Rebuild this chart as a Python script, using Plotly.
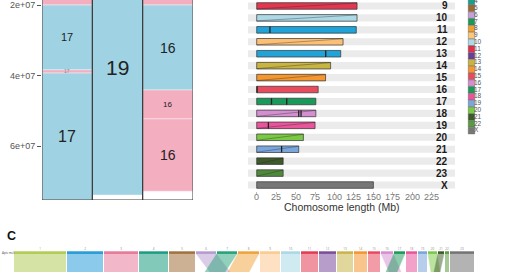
import plotly.graph_objects as go

# ---------------- Panel A: karyotype columns ----------------
seg_col   = [0, 0, 0, 0, 1, 2, 2, 2, 2]
seg_start = [1.0e7, 2.0e7, 3.84e7, 3.93e7, 0.13e7, 1.0e7, 2.0e7, 4.41e7, 5.23e7]
seg_end   = [2.0e7, 3.84e7, 3.93e7, 7.53e7, 7.39e7, 2.0e7, 4.41e7, 5.23e7, 7.28e7]
seg_kind  = ["p", "b", "p", "b", "b", "p", "b", "p", "p"]
seg_label = ["", "17", "17", "17", "19", "", "16", "16", "16"]
col_end   = 7.53e7
ytick_vals = [2e7, 4e7, 6e7]
ytick_text = ["2e+07", "4e+07", "6e+07"]

# ---------------- Panel B: chromosome lengths ----------------
chrom_rows = ["9", "10", "11", "12", "13", "14", "15", "16", "17", "18", "19", "20", "21", "22", "23", "X"]
chrom_len = [129, 129, 128, 111, 108, 95, 88.5, 79, 76, 76, 75, 60, 54, 34, 34, 150]
chrom_color = ["#e2374f", "#add8e6", "#1fa3d8", "#fdbf74", "#1fa3d8", "#c8b440", "#f5962f", "#e84b5e",
               "#1a9a5a", "#d48fd0", "#e8559a", "#7ac943", "#7aa6dc", "#3d5a2a", "#4f8a3a", "#777777"]
chrom_diag = [1, 1, 0, 1, 0, 1, 1, 0, 0, 1, 1, 1, 1, 1, 1, 0]
cen_row = [2, 4, 8, 8, 9, 9, 10, 12, 7]
cen_pos = [17, 88.7, 19, 38.6, 54, 57, 15, 32, 0.5]
xticks_b = [0, 25, 50, 75, 100, 125, 150, 175, 200, 225]

legend_labels = ["4", "5", "6", "7", "8", "9", "10", "11", "12", "13", "14", "15", "16", "17",
                 "18", "19", "20", "21", "22", "X"]
legend_colors = ["#1a9f8f", "#9c6a30", "#c8a0d8", "#1a9a5a", "#f0a030", "#fdc67a", "#add8e6", "#e0304a",
                 "#6a3d9a", "#c8b440", "#f5962f", "#e84b5e", "#d48fd0", "#1a9a5a", "#e8559a", "#7aa6dc",
                 "#7ac943", "#3d5a2a", "#5a9a40", "#777777"]

# ---------------- Panel C: synteny track ----------------
syn_len = [52, 36, 34, 29, 26, 20, 20, 21, 20, 19, 17, 17, 16, 13, 12, 12, 11, 11, 9, 9, 6, 4, 24]
syn_color = ["#b3cd5a", "#2c9fd9", "#e77c9b", "#1e9c82", "#a2713e", "#b69bd0", "#26a277", "#f0a33a",
             "#fcc98f", "#a9d9e7", "#e23c52", "#7b4c9c", "#c9b548", "#f5962f", "#e84b5e", "#d58fd2",
             "#1b9a5b", "#e8559a", "#7aa6dc", "#7ac943", "#3d5a2a", "#5a9a40", "#747474"]
syn_shift = [0, 0, 0, 0, 0, 14, -12, -10, 0, 0, 0, 0, 0, 0, 0, 8, -8, 0, 0, 3, -4, 0, 0]
syn_label = [str(i + 1) for i in range(len(syn_len))]
syn_origin = 14

W, H = 520, 272
FONT = "Liberation Sans"
fig = go.Figure()

# ---- Panel A traces
BLUE, PINK = "#9fd3e3", "#f3aec0"
for i in range(len(seg_col)):
    fig.add_trace(go.Bar(x=[seg_col[i]], y=[seg_end[i] - seg_start[i]], base=[seg_start[i]],
                         width=1, marker=dict(color=BLUE if seg_kind[i] == "b" else PINK,
                                              line=dict(color="rgba(255,255,255,0.7)", width=0.6)),
                         xaxis="x", yaxis="y", showlegend=False, hoverinfo="skip"))
for c in range(3):
    top = min(s for s, k in zip(seg_start, seg_col) if k == c)
    fig.add_trace(go.Bar(x=[c], y=[col_end - top], base=[top], width=1,
                         marker=dict(color="rgba(0,0,0,0)", line=dict(color="#3a3a3a", width=1)),
                         xaxis="x", yaxis="y", showlegend=False, hoverinfo="skip"))
lab_sizes = [11, 11, 5, 16, 21, 11, 14, 8, 14]
for i in range(len(seg_col)):
    if seg_label[i]:
        fig.add_annotation(x=seg_col[i], y=(seg_start[i] + seg_end[i]) / 2, xref="x", yref="y",
                           text=seg_label[i], showarrow=False, xanchor="center", yanchor="middle",
                           font=dict(size=lab_sizes[i], color="#222" if lab_sizes[i] > 6 else "#888",
                                     family=FONT))

# ---- Panel B traces
rng_lo, rng_hi = -11.2, 254.9
nrow = len(chrom_rows)
fig.add_trace(go.Bar(y=list(range(nrow)), x=[rng_hi - rng_lo] * nrow, base=[rng_lo] * nrow,
                     orientation="h", width=0.6, marker=dict(color="#ebebeb", line=dict(width=0)),
                     xaxis="x2", yaxis="y2", showlegend=False, hoverinfo="skip"))
fig.add_trace(go.Bar(y=list(range(nrow)), x=chrom_len, base=[0] * nrow, orientation="h", width=0.55,
                     marker=dict(color=chrom_color, line=dict(color="#333", width=0.7)),
                     xaxis="x2", yaxis="y2", showlegend=False, hoverinfo="skip"))
dx, dy = [], []
for i in range(nrow):
    if chrom_diag[i]:
        dx += [0, chrom_len[i], None]
        dy += [i + 0.25, i - 0.25, None]
fig.add_trace(go.Scatter(x=dx, y=dy, mode="lines", line=dict(color="rgba(40,40,40,0.6)", width=0.6),
                         xaxis="x2", yaxis="y2", showlegend=False, hoverinfo="skip"))
cx, cy = [], []
for r, p in zip(cen_row, cen_pos):
    cx += [p, p, None]
    cy += [r - 0.27, r + 0.27, None]
fig.add_trace(go.Scatter(x=cx, y=cy, mode="lines", line=dict(color="#222", width=1.3),
                         xaxis="x2", yaxis="y2", showlegend=False, hoverinfo="skip"))
for i, lab in enumerate(chrom_rows):
    fig.add_annotation(x=450 / W, y=i, xref="paper", yref="y2", text="<b>%s</b>" % lab, showarrow=False,
                       xanchor="right", yanchor="middle", font=dict(size=10, color="#1a1a1a", family=FONT))
for t in xticks_b:
    fig.add_annotation(x=t, y=1 - 197 / H, xref="x2", yref="paper", text=str(t), showarrow=False,
                       xanchor="center", yanchor="middle", font=dict(size=9, color="#777", family=FONT))
fig.add_annotation(x=342 / W, y=1 - 206.5 / H, xref="paper", yref="paper", text="Chomosome length (Mb)",
                   showarrow=False, xanchor="center", yanchor="middle",
                   font=dict(size=10.5, color="#333", family=FONT))

# ---- Legend
ly = [1.5 + i * 6.8 for i in range(len(legend_labels))]
fig.add_trace(go.Scatter(x=[471.5] * len(ly), y=ly, mode="markers",
                         marker=dict(symbol="square", size=6.5, color=legend_colors,
                                     line=dict(color="#555", width=0.4)),
                         xaxis="x4", yaxis="y4", showlegend=False, hoverinfo="skip"))
fig.add_trace(go.Scatter(x=[474] * len(ly), y=ly, mode="text", text=legend_labels,
                         textposition="middle right",
                         textfont=dict(size=6.5, color="#555", family=FONT),
                         xaxis="x4", yaxis="y4", showlegend=False, hoverinfo="skip"))

# ---- Panel C
starts = []
pos = syn_origin
for L in syn_len:
    starts.append(pos)
    pos += L + 1
for i, L in enumerate(syn_len):
    s, e, sh = starts[i], starts[i] + L, syn_shift[i]
    fig.add_trace(go.Scatter(x=[s, e, e + sh, s + sh, s], y=[253.5, 253.5, 272, 272, 253.5],
                             mode="lines", fill="toself", fillcolor=syn_color[i], opacity=0.55 if sh == 0 else 0.5,
                             line=dict(color=syn_color[i], width=0.5 if sh else 0),
                             xaxis="x3", yaxis="y3", showlegend=False, hoverinfo="skip"))
fig.add_trace(go.Bar(y=[252.6] * len(syn_len), x=syn_len, base=starts, orientation="h", width=2.6,
                     marker=dict(color=syn_color, line=dict(width=0)),
                     xaxis="x3", yaxis="y3", showlegend=False, hoverinfo="skip"))
fig.add_trace(go.Scatter(x=[s + L / 2 for s, L in zip(starts, syn_len)], y=[249.5] * len(syn_len),
                         mode="text", text=syn_label, textfont=dict(size=3, color="#888"),
                         xaxis="x3", yaxis="y3", showlegend=False, hoverinfo="skip"))
fig.add_annotation(x=8 / W, y=1 - 253 / H, xref="paper", yref="paper", text="Apis mel.", showarrow=False,
                   xanchor="center", yanchor="middle", font=dict(size=3, color="#444"))
fig.add_annotation(x=4.5 / W, y=1 - 236 / H, xref="paper", yref="paper", text="<b>C</b>", showarrow=False,
                   xanchor="left", yanchor="middle", font=dict(size=12.5, color="#111", family=FONT))

hidden = dict(visible=False, showgrid=False, zeroline=False)
fig.update_layout(
    width=W, height=H, margin=dict(l=0, r=0, t=0, b=0), paper_bgcolor="white", plot_bgcolor="rgba(0,0,0,0)",
    barmode="overlay", showlegend=False,
    xaxis=dict(domain=[42 / W, 193 / W], range=[-0.5, 2.5], visible=False, fixedrange=True),
    yaxis=dict(domain=[1 - 200 / H, 1], range=[col_end, 1.858e7], anchor="x", tickvals=ytick_vals,
               ticktext=ytick_text, ticks="outside", ticklen=4, tickcolor="#555",
               tickfont=dict(size=9, color="#555", family=FONT), showgrid=False,
               zeroline=False, showline=False),
    xaxis2=dict(domain=[248 / W, 455 / W], range=[rng_lo, rng_hi], anchor="y2", tickvals=xticks_b,
                ticks="outside", ticklen=2, tickcolor="#bbb", showticklabels=False, showgrid=False,
                zeroline=False, showline=False),
    yaxis2=dict(domain=[1 - 191 / H, 1], range=[nrow - 0.5, -0.5], anchor="x2", **hidden),
    xaxis3=dict(domain=[0, 1], range=[0, W], anchor="y3", **hidden),
    yaxis3=dict(domain=[0, 32 / H], range=[272, 240], anchor="x3", **hidden),
    xaxis4=dict(domain=[460 / W, 500 / W], range=[460, 500], anchor="y4", **hidden),
    yaxis4=dict(domain=[1 - 140 / H, 1], range=[140, 0], anchor="x4", **hidden),
)
fig.write_html("out.html")
